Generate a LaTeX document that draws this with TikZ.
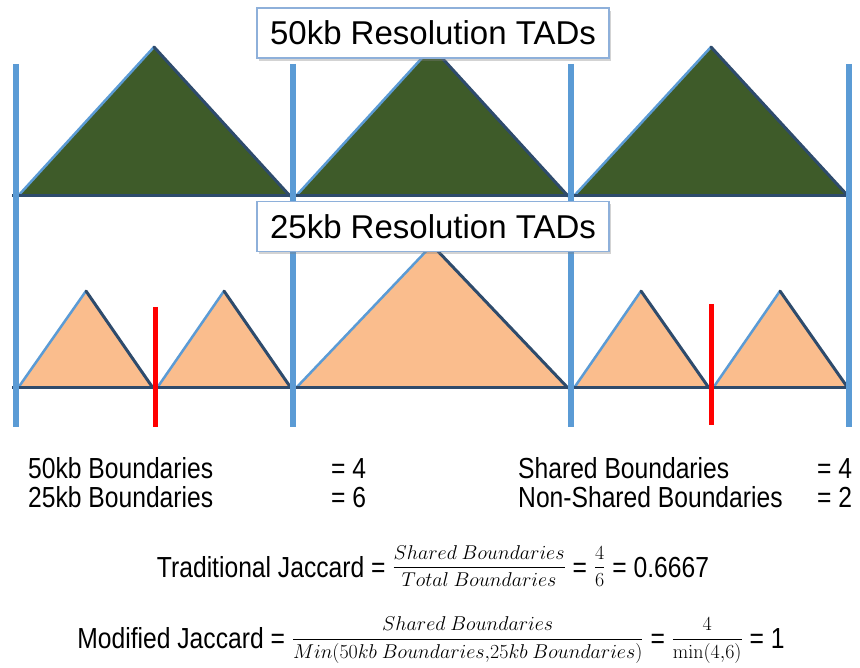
\RequirePackage{fix-cm}
\documentclass[tikz,border=0pt]{standalone}
\usepackage{amsmath}
\usepackage[no-math]{fontspec}
\setmainfont{Liberation Sans}
\newfontfamily\narrowsans[FakeStretch=0.85]{Liberation Sans}
\usetikzlibrary{positioning}
\usetikzlibrary{shadows}

\definecolor{tadblue}{HTML}{5B9BD5}
\definecolor{tadnavy}{HTML}{2E4B6C}
\definecolor{tadgreen}{HTML}{3E5B29}
\definecolor{tadorange}{HTML}{FABD8D}
\definecolor{boxblue}{HTML}{8EB0DA}

\newcommand{\fracsize}{\fontsize{20}{24}\selectfont}

\begin{document}
\begin{tikzpicture}[
  x=1pt, y=-1pt,
  bound/.style = {draw=tadblue, line width=6pt},
  newbound/.style = {draw=red, line width=5pt},
  upedge/.style = {draw=tadblue, line width=2.5pt, line cap=round},
  downedge/.style = {draw=tadnavy, line width=3pt, line cap=round},
  baseline/.style = {draw=tadnavy, line width=3pt},
  titlebox/.style = {draw=boxblue, line width=1.2pt, fill=white, minimum width=352pt, minimum height=50pt,
    drop shadow={shadow xshift=2pt, shadow yshift=-3pt, opacity=.35}, font=\fontsize{33}{38}\selectfont},
  stat/.style = {anchor=base west, inner sep=0pt, font=\narrowsans\fontsize{29}{34}\selectfont},
  formula/.style = {inner sep=0pt, font=\narrowsans\fontsize{29}{34}\selectfont}
  ]
	\useasboundingbox (0,0) rectangle (860,668);

	% 50kb TADs
	\foreach \l/\t/\r in {18/154/290, 296/432/568, 574/711/848} {
		\fill[tadgreen] (\l,196) -- (\t,47) -- (\r,196) -- cycle;
		\draw[upedge] (\l,196) -- (\t,47);
		\draw[downedge] (\t,47) -- (\r,196);
	}
	\draw[baseline] (12,196) -- (852,196);

	% 25kb TADs
	\foreach \l/\t/\r/\h in {18/86/153/291, 157/224/291/291, 296/432/568/245, 574/641/709/291, 713/780/848/291} {
		\fill[tadorange] (\l,388) -- (\t,\h) -- (\r,388) -- cycle;
		\draw[upedge] (\l,388) -- (\t,\h);
		\draw[downedge] (\t,\h) -- (\r,388);
	}
	\draw[baseline] (12,388) -- (852,388);

	% boundaries
	\coordinate (@1) at (16,64);
	\coordinate (@2) at (293,64);
	\coordinate (@3) at (571,64);
	\coordinate (@4) at (849,64);
	\draw[bound] (@1) -- ++(0,363);
	\draw[bound] (@2) -- ++(0,363);
	\draw[bound] (@3) -- ++(0,363);
	\draw[bound] (@4) -- ++(0,363);

	\coordinate (r1) at (155,307);
	\coordinate (r2) at (711,304);
	\draw[newbound] (r1) -- ++(0,120);
	\draw[newbound] (r2) -- ++(0,121);

	\node[titlebox] (t50) at (433,33) {50kb Resolution TADs};
	\node[titlebox] (t25) at (433,226.5) {25kb Resolution TADs};

	% counts
	\node[stat] (n50) at (28,478) {50kb Boundaries};
	\node[stat] (v50) at (331,478) {= 4};
	\node[stat] (n25) at (28,507) {25kb Boundaries};
	\node[stat] (v25) at (331,507) {= 6};
	\node[stat] (nsh) at (518,478) {Shared Boundaries};
	\node[stat] (vsh) at (817,478) {= 4};
	\node[stat] (nns) at (518,507) {Non-Shared Boundaries};
	\node[stat] (vns) at (817,507) {= 2};

	% jaccard
	\node[formula] (trad) at (433,566) {Traditional Jaccard =
		\raisebox{4.5pt}{\fracsize$\dfrac{Shared\ Boundaries}{Total\ Boundaries}$} =
		\raisebox{4.5pt}{\fracsize$\dfrac{4}{6}$} = 0.6667};
	\node[formula] (mod) at (431,640) {Modified Jaccard =
		\raisebox{4.5pt}{\fracsize$\dfrac{Shared\ Boundaries}{Min(50kb\ Boundaries{,}25kb\ Boundaries)}$} =
		\raisebox{4.5pt}{\fracsize$\dfrac{4}{\min(4{,}6)}$} = 1};

\end{tikzpicture}
\end{document}
